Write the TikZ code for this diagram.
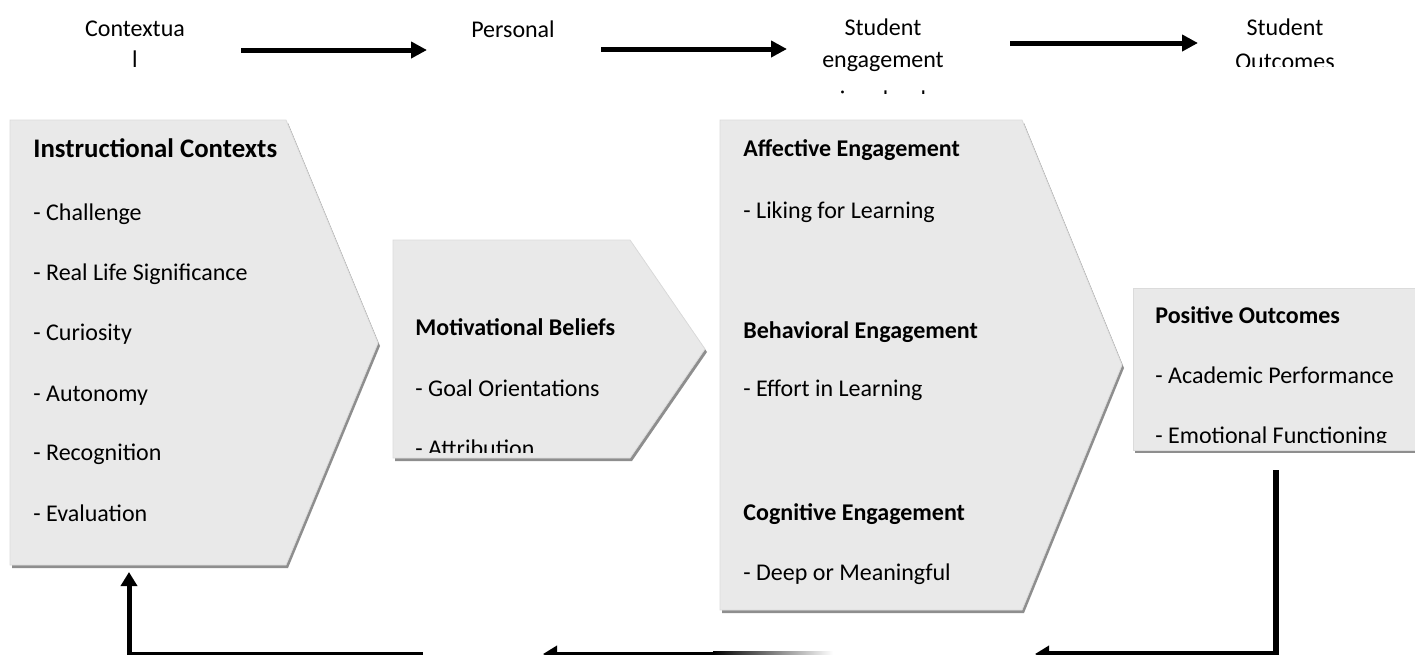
\documentclass[tikz,border=0pt]{standalone}
\usepackage{fontspec}
\setmainfont{Carlito}
\usetikzlibrary{arrows.meta}
\definecolor{boxfill}{HTML}{E9E9E9}
\definecolor{shadowc}{HTML}{8E8E8E}
\begin{document}
\begin{tikzpicture}[x=0.5pt,y=-0.5pt,
  txt/.style={anchor=base west, inner sep=0pt, font=\fontsize{12}{14}\selectfont},
  head/.style={anchor=base west, inner sep=0pt, font=\fontsize{12}{14}\selectfont\bfseries},
  bighead/.style={anchor=base west, inner sep=0pt, font=\fontsize{13.4}{15}\selectfont\bfseries},
  toplbl/.style={anchor=base, inner sep=0pt, font=\fontsize{12}{14}\selectfont},
  chev/.style={fill=boxfill, draw=black!14, line width=0.4pt},
  shad/.style={fill=shadowc},
  toparrow/.style={line width=2.5pt, -{Triangle[length=8pt,width=8pt]}},
  fb/.style={line width=2.5pt, line join=miter},
  fbarrow/.style={fb, -{Triangle[length=7pt,width=8pt]}},
]
\useasboundingbox (0,0) rectangle (1415,654);

% ---------- shadows ----------
\begin{scope}[shift={(2,3)}]
  \path[shad] (10,120) -- (286,120) -- (378,343) -- (286,565) -- (10,565) -- cycle;
  \path[shad] (393,240) -- (630,240) -- (705,349) -- (630,458) -- (393,458) -- cycle;
  \path[shad] (720,120) -- (1022,120) -- (1122,365) -- (1022,610) -- (720,610) -- cycle;
  \path[shad] (1133,288) -- (1430,288) -- (1430,450) -- (1133,450) -- cycle;
\end{scope}

% ---------- shapes ----------
\path[chev] (10,120) -- (286,120) -- (378,343) -- (286,565) -- (10,565) -- cycle;
\path[chev] (393,240) -- (630,240) -- (705,349) -- (630,458) -- (393,458) -- cycle;
\path[chev] (720,120) -- (1022,120) -- (1122,365) -- (1022,610) -- (720,610) -- cycle;
\path[chev] (1133,288) -- (1430,288) -- (1430,450) -- (1133,450) -- cycle;

% ---------- Instructional Contexts ----------
\node[bighead] (ich) at (33,157) {Instructional Contexts};
\node[txt] (ic1) at (33,220) {- Challenge};
\node[txt] (ic2) at (33,280) {- Real Life Significance};
\node[txt] (ic3) at (33,340) {- Curiosity};
\node[txt] (ic4) at (33,401) {- Autonomy};
\node[txt] (ic5) at (33,460) {- Recognition};
\node[txt] (ic6) at (33,521) {- Evaluation};

% ---------- Motivational Beliefs ----------
\node[head] (mbh) at (415,335) {Motivational Beliefs};
\node[txt] (mb1) at (415,396) {- Goal Orientations};
\begin{scope}
  \clip (393,400) rectangle (700,452);
  \node[txt] (mb2) at (415,456) {- Attribution};
\end{scope}

% ---------- Engagement ----------
\node[head] (aeh) at (743,156) {Affective Engagement};
\node[txt] (ae1) at (743,218) {- Liking for Learning};
\node[head] (beh) at (743,338) {Behavioral Engagement};
\node[txt] (be1) at (743,396) {- Effort in Learning};
\node[head] (ceh) at (743,520) {Cognitive Engagement};
\node[txt] (ce1) at (743,580) {- Deep or Meaningful};

% ---------- Positive Outcomes ----------
\node[head] (poh) at (1155,323) {Positive Outcomes};
\node[txt] (po1) at (1155,383) {- Academic Performance};
\begin{scope}
  \clip (1133,390) rectangle (1415,442);
  \node[txt] (po2) at (1155,443) {- Emotional Functioning};
\end{scope}

% ---------- top labels ----------
\node[toplbl] (ctx) at (135,36) {Contextua};
\node[toplbl] (ctxb) at (135,67) {l};
\node[toplbl] (per) at (513,37) {Personal};
\node[toplbl] (se) at (883,35) {Student};
\node[toplbl] (seb) at (883,67) {engagement};
\begin{scope}
  \clip (780,76) rectangle (990,93);
  \node[toplbl] (sec) at (883,107) {in school};
\end{scope}
\node[toplbl] (so) at (1285,35) {Student};
\begin{scope}
  \clip (1180,40) rectangle (1390,66);
  \node[toplbl] (sob) at (1285,69) {Outcomes};
\end{scope}

% ---------- top arrows ----------
\coordinate (t1s) at (241,50); \coordinate (t1e) at (427,50);
\coordinate (t2s) at (601,49); \coordinate (t2e) at (787,49);
\coordinate (t3s) at (1010,43); \coordinate (t3e) at (1198,43);
\draw[toparrow] (t1s) -- (t1e);
\draw[toparrow] (t2s) -- (t2e);
\draw[toparrow] (t3s) -- (t3e);

% ---------- feedback loop ----------
\coordinate (poout) at (1276,470);
\coordinate (fc1) at (1276,654);
\coordinate (fc1e) at (1035,654);
\draw[fbarrow, line width=3pt] (poout) -- (fc1) -- (fc1e);
\coordinate (fc2s) at (714,654);
\coordinate (fc2e) at (543,654);
\draw[fbarrow] (fc2s) -- (fc2e);
\shade[left color=black, right color=white] (713,651.5) rectangle (833,656.5);
\coordinate (fc3s) at (423,654);
\coordinate (fc3m) at (129,654);
\coordinate (icin) at (129,572);
\draw[fbarrow] (fc3s) -- (fc3m) -- (icin);
\end{tikzpicture}
\end{document}
